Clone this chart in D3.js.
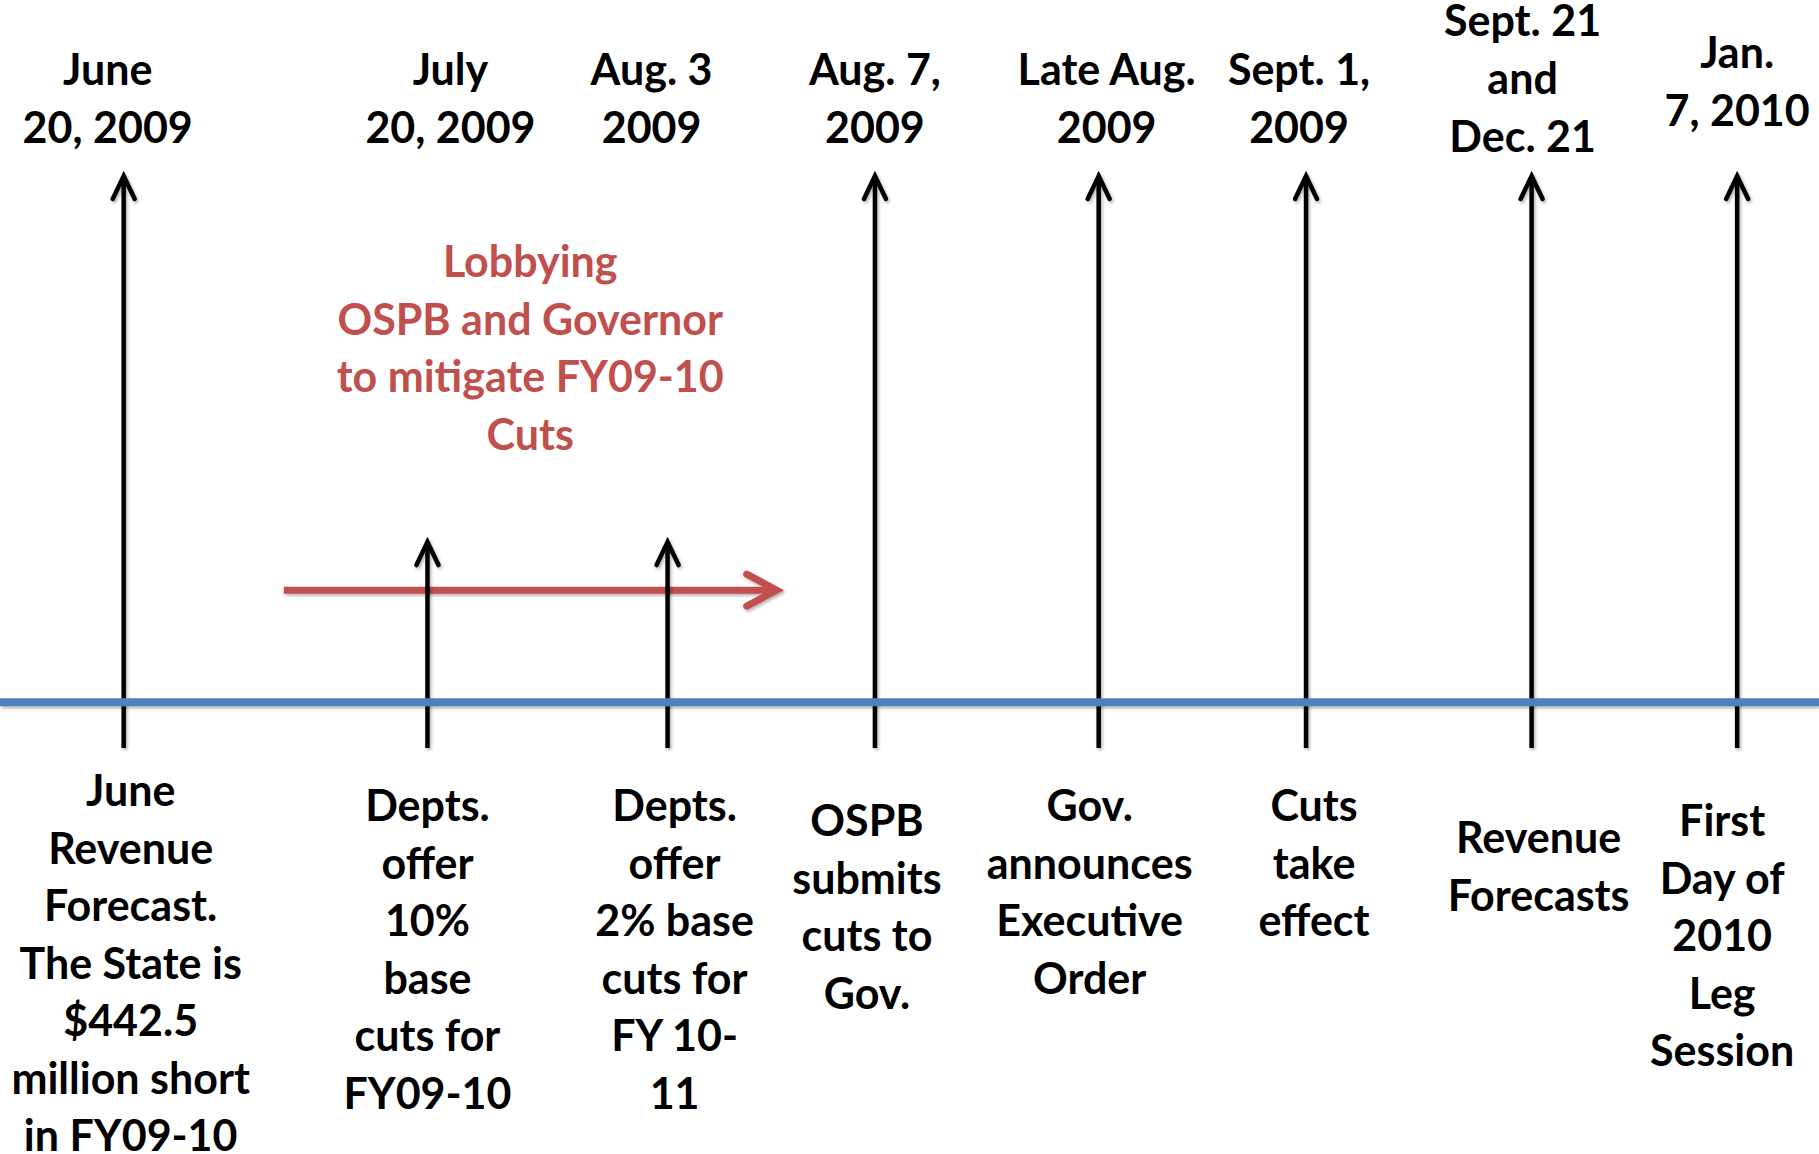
<!DOCTYPE html>
<html lang="en">
	<head>
		<meta charset="utf-8">
		<title>Budget Cut Timeline</title>
		<script type="text/javascript" src="https://cdn.jsdelivr.net/npm/d3@7/dist/d3.min.js"></script>
		<style type="text/css">
			body {
				margin: 0;
				background-color: white;
			}
			svg {
				display: block;
				font-family: Lato, "Open Sans", sans-serif;
				font-weight: 700;
			}
		</style>
	</head>
	<body>

		<script type="text/javascript">

			// the dates above the arrows
			var dates = [
				["June", "20, 2009"],
				["July", "20, 2009"],
				["Aug. 3", "2009"],
				["Aug. 7,", "2009"],
				["Late Aug.", "2009"],
				["Sept. 1,", "2009"],
				["Sept. 21", "and", "Dec. 21"],
				["Jan.", "7, 2010"]
			];

			// what happened, under the timeline
			var events = [
				["June", "Revenue", "Forecast.", "The State is", "$442.5", "million short", "in FY09-10"],
				["Depts.", "offer", "10%", "base", "cuts for", "FY09-10"],
				["Depts.", "offer", "2% base", "cuts for", "FY 10-", "11"],
				["OSPB", "submits", "cuts to", "Gov."],
				["Gov.", "announces", "Executive", "Order"],
				["Cuts", "take", "effect"],
				["Revenue", "Forecasts"],
				["First", "Day of", "2010", "Leg", "Session"]
			];

			// where each event sits along the line (0-100)
			var slots = [6.8, 23.5, 36.7, 48.1, 60.4, 71.8, 84.2, 95.5];
			// how tall each arrow is (1 = full)
			var reach = [1, 0.36, 0.36, 1, 1, 1, 1, 1];

			// the lobbying period
			var lobbyText = ["Lobbying", "OSPB and Governor", "to mitigate FY09-10", "Cuts"];
			var lobbySpan = [15.6, 42.7];
			var lobbyLevel = 0.276;
			var lineLevel = 0.08;

			// text box layout (nudges and first baselines)
			var topDx = [-16, 23, -16, 0, 8, -7, -9, 0];
			var topY = [85, 85, 85, 85, 85, 85, 36, 68];
			var botDx = [7, 0, 7, -8, -9, 8, 7, -15];
			var botY = [806, 821, 821, 836, 821, 821, 853, 836];

			var w = 1819, h = 1154;

			var svg = d3.select("body")
						.append("svg")
						.attr("width", w)
						.attr("height", h);

			// soft shadow, in user space so thin lines keep it
			var f = svg.append("defs")
						.append("filter")
						.attr("id", "shadow")
						.attr("filterUnits", "userSpaceOnUse")
						.attr("x", 0).attr("y", 0)
						.attr("width", w).attr("height", h);
			f.append("feDropShadow")
				.attr("dx", 1.5).attr("dy", 2)
				.attr("stdDeviation", 1.5)
				.attr("flood-color", "#000")
				.attr("flood-opacity", 0.3);

			var x = d3.scaleLinear().domain([0, 100]).range([0, w]);
			var y = d3.scaleLinear().domain([0, 1]).range([748, 176]);

			// red lobbying arrow
			var ly = y(lobbyLevel);
			var lx0 = x(lobbySpan[0]), lx1 = x(lobbySpan[1]);
			var red = svg.append("g")
						.attr("filter", "url(#shadow)")
						.attr("stroke", "#C0504D")
						.attr("stroke-width", 7)
						.attr("fill", "none");
			red.append("line")
				.attr("x1", lx0).attr("x2", lx1 - 3)
				.attr("y1", ly).attr("y2", ly);
			red.append("path")
				.attr("stroke-linecap", "round")
				.attr("d", "M" + (lx1 - 30) + "," + (ly - 16) + "L" + lx1 + "," + ly + "L" + (lx1 - 30) + "," + (ly + 16));

			// black arrows
			var arrows = svg.selectAll("g.arrow")
							.data(slots)
							.enter()
							.append("g")
							.attr("class", "arrow")
							.attr("filter", "url(#shadow)")
							.attr("stroke", "black")
							.attr("stroke-width", 4.5)
							.attr("fill", "none");

			arrows.append("line")
				.attr("x1", function(d) { return x(d); })
				.attr("x2", function(d) { return x(d); })
				.attr("y1", y(0))
				.attr("y2", function(d, i) { return y(reach[i]) + 2; });

			arrows.append("path")
				.attr("stroke-linecap", "round")
				.attr("d", function(d, i) {
					var ax = x(d), ay = y(reach[i]);
					return "M" + (ax - 11) + "," + (ay + 23) + "L" + ax + "," + ay + "L" + (ax + 11) + "," + (ay + 23);
				});

			// blue timeline
			svg.append("line")
				.attr("filter", "url(#shadow)")
				.attr("x1", 0).attr("x2", w)
				.attr("y1", y(lineLevel)).attr("y2", y(lineLevel))
				.attr("stroke", "#4F81BD")
				.attr("stroke-width", 8);

			// dates on top
			var tops = svg.selectAll("text.date")
						.data(dates)
						.enter()
						.append("text")
						.attr("class", "date")
						.attr("text-anchor", "middle")
						.attr("font-size", 43)
						.attr("fill", "black");

			tops.selectAll("tspan")
				.data(function(d, i) {
					return d.map(function(t) { return { t: t, i: i }; });
				})
				.enter()
				.append("tspan")
				.attr("x", function(d) { return x(slots[d.i]) + topDx[d.i]; })
				.attr("y", function(d, j) { return topY[d.i] + j * 58; })
				.text(function(d) { return d.t; });

			// events below
			var bots = svg.selectAll("text.event")
						.data(events)
						.enter()
						.append("text")
						.attr("class", "event")
						.attr("text-anchor", "middle")
						.attr("font-size", 43)
						.attr("fill", "black");

			bots.selectAll("tspan")
				.data(function(d, i) {
					return d.map(function(t) { return { t: t, i: i }; });
				})
				.enter()
				.append("tspan")
				.attr("x", function(d) { return x(slots[d.i]) + botDx[d.i]; })
				.attr("y", function(d, j) { return botY[d.i] + j * 57.5; })
				.text(function(d) { return d.t; });

			// lobbying note
			svg.append("text")
				.attr("text-anchor", "middle")
				.attr("font-size", 43)
				.attr("fill", "#C0504D")
				.selectAll("tspan")
				.data(lobbyText)
				.enter()
				.append("tspan")
				.attr("x", x(d3.mean(lobbySpan)))
				.attr("y", function(d, j) { return 277 + j * 57.5; })
				.text(function(d) { return d; });

		</script>

	</body>
</html>
